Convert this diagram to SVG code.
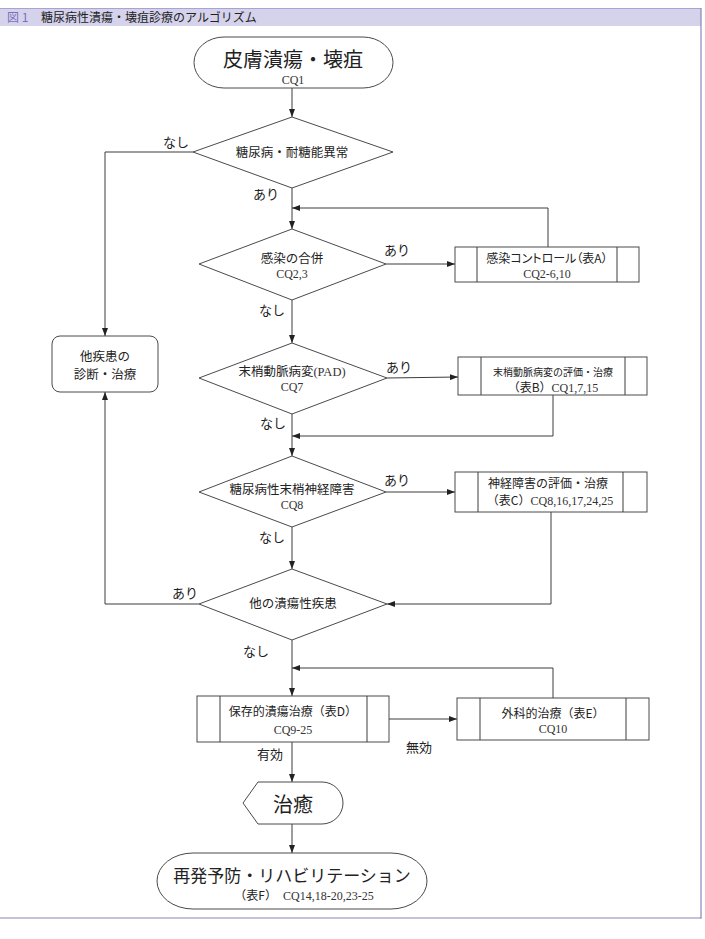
<svg xmlns="http://www.w3.org/2000/svg" width="705" height="939" viewBox="0 0 705 939">
<style>
.n{fill:#fff;stroke:#4a4a4a;stroke-width:1}
.c{fill:none;stroke:#3c3c3c;stroke-width:1;marker-end:url(#ah)}
.l{fill:none;stroke:#3c3c3c;stroke-width:1}
.j{font-family:"Noto Sans CJK JP","Noto Sans",sans-serif;fill:#222}
.s{font-family:"Liberation Serif","Noto Sans CJK JP",serif;fill:#333}
.m{text-anchor:middle}
.p{font-feature-settings:"palt"}
.lb{font-family:"Noto Sans CJK JP",sans-serif;font-size:13px;fill:#222}
</style>
<defs>
<marker id="ah" markerWidth="8" markerHeight="6" refX="8" refY="3" orient="auto" markerUnits="userSpaceOnUse">
<path d="M0,0 L8,3 L0,6 z" fill="#222"/>
</marker>
</defs>
<rect width="705" height="939" fill="#fff"/>
<g id="frame">
<rect x="0" y="8" width="701" height="18" fill="#d5d2ec"/>
<line x1="0" y1="8.5" x2="701" y2="8.5" stroke="#a9a3d3" stroke-width="1"/>
<line x1="701" y1="8" x2="701" y2="918.5" stroke="#8a84b8" stroke-width="1.2"/>
<line x1="0" y1="918" x2="701.5" y2="918" stroke="#8a84b8" stroke-width="1.2"/>
<text x="7" y="21.5" font-family="Noto Sans CJK JP,sans-serif" font-size="12" fill="#7a6fb8">図 1</text>
<text x="41" y="21.5" font-family="Noto Sans CJK JP,sans-serif" font-size="12" fill="#222">糖尿病性潰瘍・壊疽診療のアルゴリズム</text>
</g>
<g id="connectors">
<path class="c" d="M292,88 V117"/>
<path class="c" d="M193,152 H105 V336"/>
<path class="c" d="M292,188 V229"/>
<path class="c" d="M548,247 V208 H292"/>
<path class="c" d="M386,264 H455"/>
<path class="c" d="M292,300 V343"/>
<path class="c" d="M387,378 L458,377"/>
<path class="c" d="M553,395 V436 H292"/>
<path class="c" d="M292,414 V456"/>
<path class="c" d="M386,492 H455"/>
<path class="c" d="M551,512 V604 H387"/>
<path class="c" d="M292,527 V569"/>
<path class="c" d="M199,604 H105 V392"/>
<path class="c" d="M292,640 V696"/>
<path class="c" d="M553,698 V668 H292"/>
<path class="c" d="M389,719 H457"/>
<path class="c" d="M292,742 V782"/>
<path class="c" d="M292,824 V853"/>
</g>
<g id="edge-labels">
<text class="lb" x="163" y="147">なし</text>
<text class="lb" x="253" y="199">あり</text>
<text class="lb" x="384" y="255">あり</text>
<text class="lb" x="259" y="315">なし</text>
<text class="lb" x="386" y="372">あり</text>
<text class="lb" x="260" y="428">なし</text>
<text class="lb" x="384" y="485">あり</text>
<text class="lb" x="259" y="542">なし</text>
<text class="lb" x="172" y="598">あり</text>
<text class="lb" x="243" y="656">なし</text>
<text class="lb" x="257" y="759">有効</text>
<text class="lb" x="406" y="752">無効</text>
</g>
<g id="start">
<rect class="n" x="194" y="37" width="199" height="51" rx="30" ry="25.5"/>
<text class="j m" x="293" y="67" font-size="20">皮膚潰瘍・壊疽</text>
<text class="s m" x="293" y="83.5" font-size="12">CQ1</text>
</g>
<g id="d-diabetes">
<polygon class="n" points="292,117 393,152 292,188 193,152"/>
<text class="j m" x="292" y="156.5" font-size="12.5">糖尿病・耐糖能異常</text>
</g>
<g id="d-infection">
<polygon class="n" points="292,229 386,264 292,300 199,264"/>
<text class="j m" x="292" y="263" font-size="12.5">感染の合併</text>
<text class="s m" x="292" y="278" font-size="12">CQ2,3</text>
</g>
<g id="box-a">
<rect class="n" x="455" y="247" width="184" height="35"/>
<line class="l" x1="477" y1="247" x2="477" y2="282"/>
<line class="l" x1="617" y1="247" x2="617" y2="282"/>
<text class="j m p" x="547" y="262.5" font-size="12">感染コントロール（表A）</text>
<text class="s m" x="547" y="277.5" font-size="12">CQ2-6,10</text>
</g>
<g id="other">
<rect class="n" x="52" y="336" width="106" height="56" rx="8"/>
<text class="j m" x="105" y="360.5" font-size="12.5">他疾患の</text>
<text class="j m" x="105" y="378.5" font-size="12.5">診断・治療</text>
</g>
<g id="d-pad">
<polygon class="n" points="292,343 387,378 292,414 199,378"/>
<text class="j m" x="292" y="376" font-size="12.5">末梢動脈病変<tspan class="s">(PAD)</tspan></text>
<text class="s m" x="292" y="391" font-size="12">CQ7</text>
</g>
<g id="box-b">
<rect class="n" x="458" y="357" width="189" height="38"/>
<line class="l" x1="481" y1="357" x2="481" y2="395"/>
<line class="l" x1="625" y1="357" x2="625" y2="395"/>
<text class="j m" x="553" y="375.5" font-size="10">末梢動脈病変の評価・治療</text>
<text class="j m" x="553" y="391.5" font-size="12">（表B）<tspan class="s">CQ1,7,15</tspan></text>
</g>
<g id="d-neuro">
<polygon class="n" points="292,456 386,492 292,527 199,492"/>
<text class="j m" x="292" y="494" font-size="12.5">糖尿病性末梢神経障害</text>
<text class="s m" x="292" y="509" font-size="12">CQ8</text>
</g>
<g id="box-c">
<rect class="n" x="455" y="472" width="192" height="40"/>
<line class="l" x1="478" y1="472" x2="478" y2="512"/>
<line class="l" x1="623" y1="472" x2="623" y2="512"/>
<text class="j m" x="548" y="487.5" font-size="12">神経障害の評価・治療</text>
<text class="j m" x="550" y="504.5" font-size="12">（表C）<tspan class="s">CQ8,16,17,24,25</tspan></text>
</g>
<g id="d-other">
<polygon class="n" points="292,569 387,604 292,640 199,604"/>
<text class="j m" x="293" y="607.5" font-size="12.5">他の潰瘍性疾患</text>
</g>
<g id="box-d">
<rect class="n" x="197" y="696" width="192" height="46"/>
<line class="l" x1="220" y1="696" x2="220" y2="742"/>
<line class="l" x1="367" y1="696" x2="367" y2="742"/>
<text class="j m" x="293" y="715.5" font-size="12">保存的潰瘍治療（表D）</text>
<text class="s m" x="293" y="733.5" font-size="12">CQ9-25</text>
</g>
<g id="box-e">
<rect class="n" x="457" y="698" width="192" height="42"/>
<line class="l" x1="480" y1="698" x2="480" y2="740"/>
<line class="l" x1="626" y1="698" x2="626" y2="740"/>
<text class="j m" x="553" y="717.5" font-size="12">外科的治療（表E）</text>
<text class="s m" x="553" y="732.5" font-size="12">CQ10</text>
</g>
<g id="cure">
<path class="n" d="M258,782 H322 A21,21 0 0 1 322,824 H258 L243,803 Z"/>
<text class="j m" x="293" y="812" font-size="20">治癒</text>
</g>
<g id="end">
<rect class="n" x="157" y="853" width="270" height="56" rx="36" ry="28"/>
<text class="j m" x="292" y="881.5" font-size="17">再発予防・リハビリテーション</text>
<text class="j m" x="304" y="899.5" font-size="12">（表F）　<tspan class="s">CQ14,18-20,23-25</tspan></text>
</g>
</svg>
